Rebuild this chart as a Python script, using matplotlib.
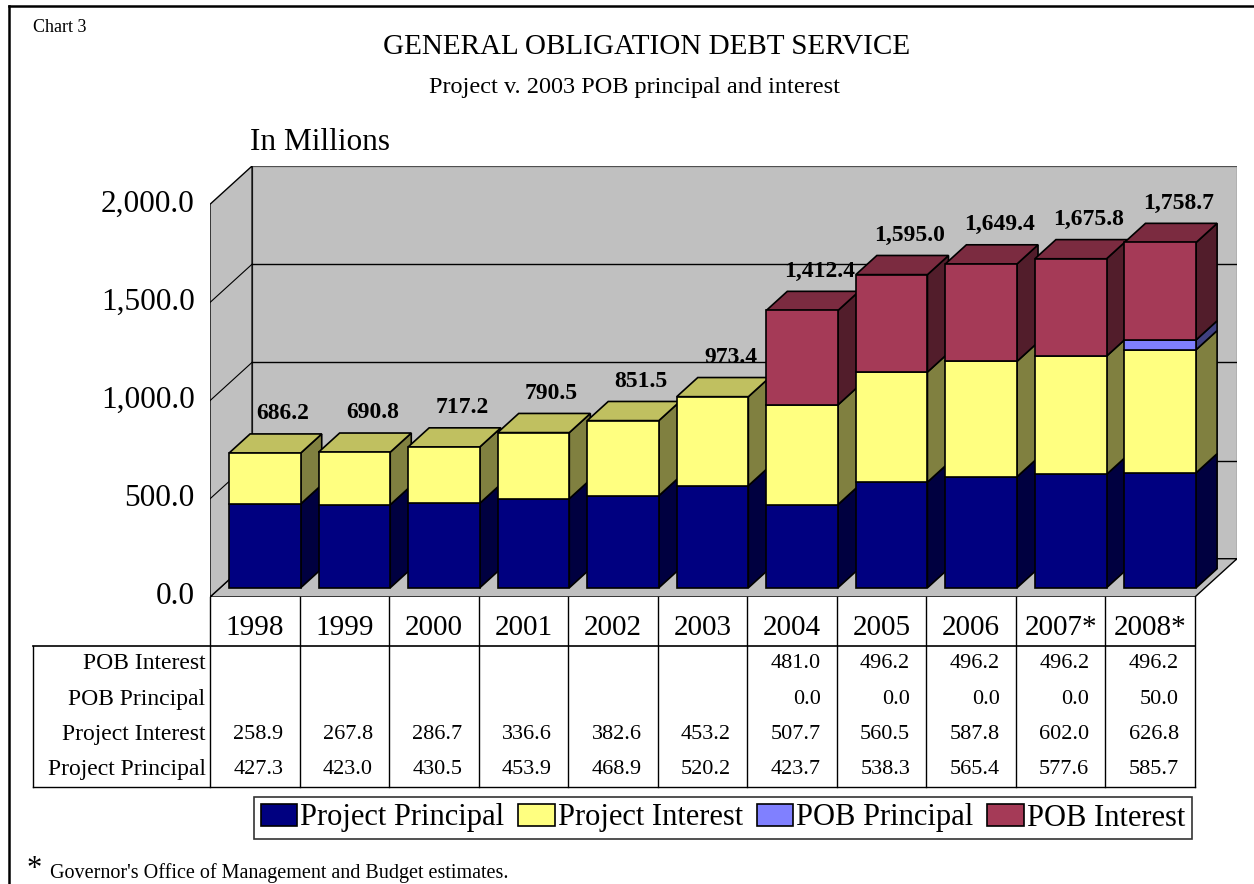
import numpy as np
import matplotlib
matplotlib.use("Agg")
import matplotlib.pyplot as plt
from matplotlib.patches import Polygon, Patch
from matplotlib.lines import Line2D

plt.rcParams['font.family'] = ['Liberation Serif', 'DejaVu Serif']

# ---------------------------
# Data (millions of dollars)
# ---------------------------
years = ["1998", "1999", "2000", "2001", "2002", "2003",
         "2004", "2005", "2006", "2007*", "2008*"]
project_principal = [427.3, 423.0, 430.5, 453.9, 468.9, 520.2,
                     423.7, 538.3, 565.4, 577.6, 585.7]
project_interest = [258.9, 267.8, 286.7, 336.6, 382.6, 453.2,
                    507.7, 560.5, 587.8, 602.0, 626.8]
pob_principal = [None, None, None, None, None, None,
                 0.0, 0.0, 0.0, 0.0, 50.0]
pob_interest = [None, None, None, None, None, None,
                481.0, 496.2, 496.2, 496.2, 496.2]
totals = [686.2, 690.8, 717.2, 790.5, 851.5, 973.4,
          1412.4, 1595.0, 1649.4, 1675.8, 1758.7]
y_ticks = [0, 500, 1000, 1500, 2000]

series_names = ["Project Principal", "Project Interest", "POB Principal", "POB Interest"]
series_values = [project_principal, project_interest, pob_principal, pob_interest]
# front, side, top shades for each series
series_colors = [
    ("#000080", "#000040", "#000060"),
    ("#FFFF80", "#808040", "#C0C060"),
    ("#8080FF", "#404080", "#6060C0"),
    ("#A53A57", "#521D2B", "#7B2B40"),
]

W, H = 1254, 884
n = len(years)
YMAX = 2000
DX = 0.47      # depth of the floor, in category units
DY = 195.0     # depth of the floor, in value units
D0, D1 = 0.24, 0.74   # front / back of the bars as a fraction of depth
HALF = 0.4


def px_rect(x0, y0, x1, y1):
    return [x0 / W, 1 - y1 / H, (x1 - x0) / W, (y1 - y0) / H]


fig = plt.figure(figsize=(W / 100, H / 100), dpi=100)

# outer frame
fig.add_artist(Line2D([9 / W, 9 / W], [0, 1 - 6 / H], color="black", lw=1.8))
fig.add_artist(Line2D([9 / W, 1], [1 - 6 / H, 1 - 6 / H], color="black", lw=1.8))

fig.text(33 / W, 1 - 27 / H, "Chart 3", fontsize=13, va="center", ha="left")
fig.text(647 / W, 1 - 47 / H, "GENERAL OBLIGATION DEBT SERVICE", fontsize=21,
         ha="center", va="center")
fig.text(634 / W, 1 - 87 / H, "Project v. 2003 POB principal and interest", fontsize=17.5,
         ha="center", va="center")
fig.text(250 / W, 1 - 143 / H, "In Millions", fontsize=22.5, ha="left", va="center")

# ---------------------------
# 3D plot area
# ---------------------------
x_left, x_right = 210, 1237
ax = fig.add_axes(px_rect(x_left, 166, x_right, 597))
ax.set_xlim(0, n + DX)
ax.set_ylim(0, YMAX + DY)
ax.axis("off")
px_per_cat = (x_right - x_left) / (n + DX)

gray = "#C0C0C0"
ax.add_patch(Polygon([(DX, DY), (n + DX, DY), (n + DX, YMAX + DY), (DX, YMAX + DY)],
                     closed=True, facecolor=gray, edgecolor="#505050", lw=0.9, zorder=1))
ax.add_patch(Polygon([(0, 0), (n, 0), (n + DX, DY), (DX, DY)],
                     closed=True, facecolor=gray, edgecolor="black", lw=1.0, zorder=1))
ax.add_patch(Polygon([(0, 0), (DX, DY), (DX, YMAX + DY), (0, YMAX)],
                     closed=True, facecolor=gray, edgecolor="black", lw=1.0, zorder=1))
for v in y_ticks[1:-1]:
    ax.plot([DX, n + DX], [v + DY, v + DY], color="black", lw=1.0, zorder=2)
    ax.plot([0, DX], [v, v + DY], color="black", lw=0.8, zorder=2)
for v in y_ticks:
    ax.text(-0.17, v, f"{v:,.1f}", fontsize=22.5, ha="right", va="center", clip_on=False)

# stacked 3D columns
for i in range(n):
    c = i + 0.5
    base = 0.0
    stack = [(vals[i], cols) for vals, cols in zip(series_values, series_colors)
             if vals[i] is not None and vals[i] > 0]
    for k, (val, (front, side, top)) in enumerate(stack):
        t = base + val
        z = 10 + i * 3
        ax.add_patch(Polygon([(c - HALF + D0 * DX, base + D0 * DY),
                              (c + HALF + D0 * DX, base + D0 * DY),
                              (c + HALF + D0 * DX, t + D0 * DY),
                              (c - HALF + D0 * DX, t + D0 * DY)],
                             closed=True, facecolor=front, edgecolor="black", lw=1.2, zorder=z + 1))
        ax.add_patch(Polygon([(c + HALF + D0 * DX, base + D0 * DY),
                              (c + HALF + D1 * DX, base + D1 * DY),
                              (c + HALF + D1 * DX, t + D1 * DY),
                              (c + HALF + D0 * DX, t + D0 * DY)],
                             closed=True, facecolor=side, edgecolor="black", lw=1.2, zorder=z))
        if k == len(stack) - 1:
            ax.add_patch(Polygon([(c - HALF + D0 * DX, t + D0 * DY),
                                  (c + HALF + D0 * DX, t + D0 * DY),
                                  (c + HALF + D1 * DX, t + D1 * DY),
                                  (c - HALF + D1 * DX, t + D1 * DY)],
                                 closed=True, facecolor=top, edgecolor="black", lw=1.2, zorder=z))
        base = t
    ax.annotate(f"{totals[i]:,.1f}", (c + D1 * DX * 0.9, totals[i] + D1 * DY),
                xytext=(0, 7), textcoords="offset points", ha="center", va="bottom",
                fontsize=17, fontweight="bold", zorder=100)

# ---------------------------
# Data table under the chart
# ---------------------------
tab_left, tab_right = 33, x_left + n * px_per_cat
tab = fig.add_axes(px_rect(tab_left, 597, tab_right, 787))
label_w = (x_left - tab_left) / px_per_cat
tab.set_xlim(-label_w, n)
year_h = 1.4
rows = [("POB Interest", pob_interest), ("POB Principal", pob_principal),
        ("Project Interest", project_interest), ("Project Principal", project_principal)]
tab.set_ylim(year_h + len(rows), 0)
tab.axis("off")

for j in range(n + 1):
    tab.plot([j, j], [0, year_h + len(rows)], color="black", lw=1.0, clip_on=False)
tab.plot([-label_w, n], [year_h, year_h], color="black", lw=1.2, clip_on=False)
tab.plot([-label_w, n], [year_h + len(rows)] * 2, color="black", lw=1.0, clip_on=False)
tab.plot([-label_w, -label_w], [year_h, year_h + len(rows)], color="black", lw=1.0, clip_on=False)

for j, yr in enumerate(years):
    tab.text(j + 0.5, year_h * 0.62, yr, fontsize=21, ha="center", va="center")
for r, (name, vals) in enumerate(rows):
    yc = year_h + r + 0.5
    tab.text(-0.05, yc, name, fontsize=17, ha="right", va="center")
    for j, v in enumerate(vals):
        if v is not None:
            tab.text(j + 0.82, yc, f"{v:.1f}", fontsize=16, ha="right", va="center")

# legend
handles = [Patch(facecolor=cols[0], edgecolor="black", lw=1.2) for cols in series_colors]
leg = fig.legend(handles, series_names, loc="center", bbox_to_anchor=(723 / W, 1 - 818 / H),
                 ncol=4, fontsize=22, frameon=True, fancybox=False, handlelength=1.2,
                 handleheight=0.75, handletextpad=0.1, columnspacing=0.45, borderpad=0.2,
                 borderaxespad=0)
leg.get_frame().set_edgecolor("black")
leg.get_frame().set_linewidth(1.2)

fig.text(27 / W, 1 - 869 / H, "*", fontsize=22, ha="left", va="center")
fig.text(50 / W, 1 - 873 / H, "Governor's Office of Management and Budget estimates.",
         fontsize=14.5, ha="left", va="center")

fig.savefig("out.png", dpi=100)
